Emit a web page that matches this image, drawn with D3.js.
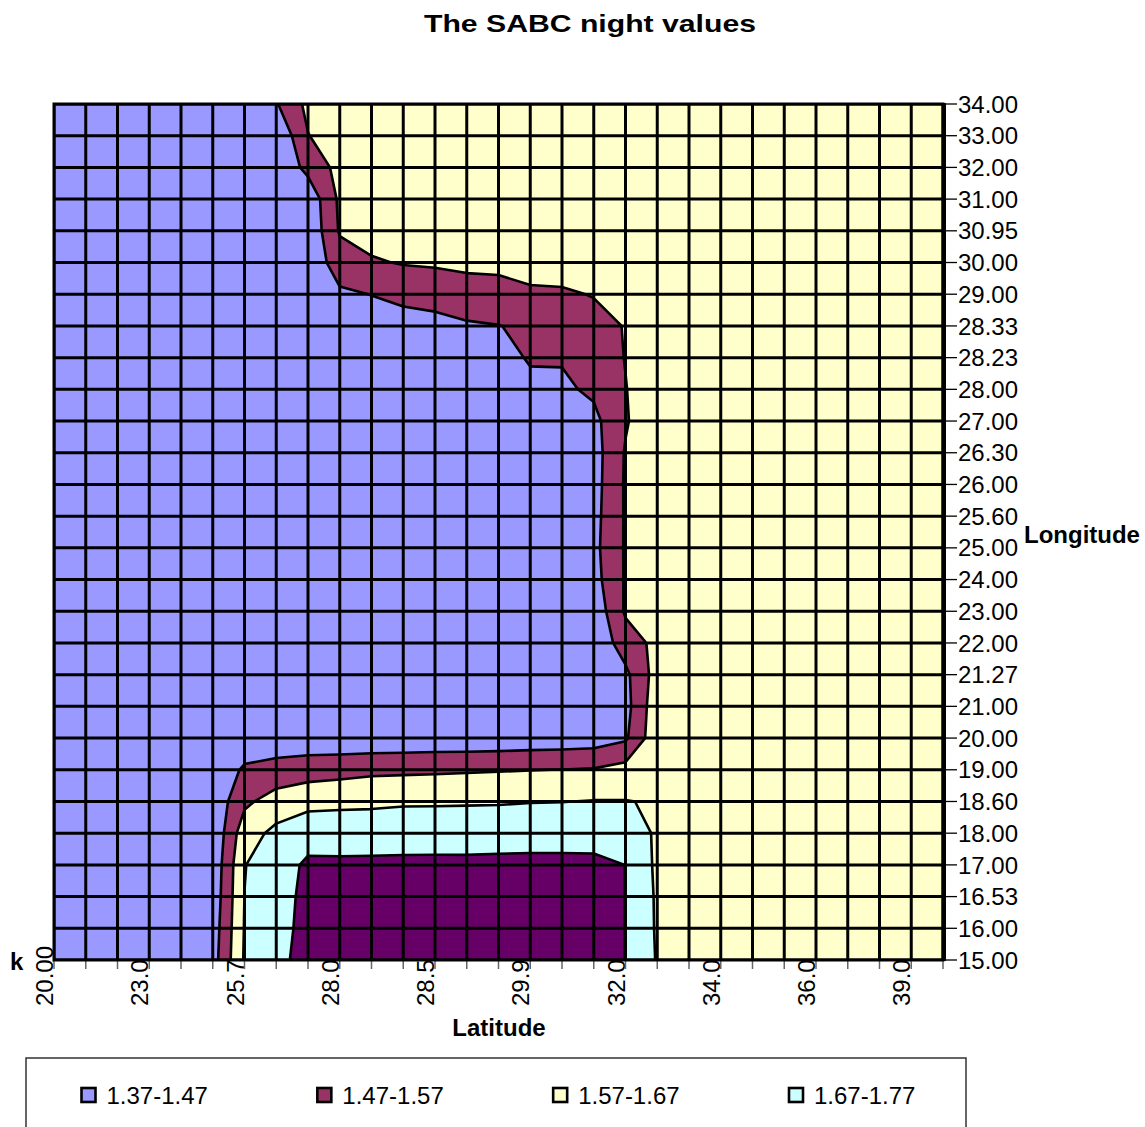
<!DOCTYPE html>
<html>
<head>
<meta charset="utf-8">
<script src="https://cdn.jsdelivr.net/npm/d3@7"></script>
<style>
  body { margin: 0; background: #ffffff; }
  svg { display: block; font-family: "Liberation Sans", Arial, sans-serif; }
</style>
</head>
<body>
<svg id="chart" width="1145" height="1127"></svg>
<script>
// ---------------- data ----------------
const chartTitle = "The SABC night values";
const xAxisTitle = "Latitude";
const yAxisTitle = "Longitude";
const depthLabel = "k";

// latitude categories (29 columns); labels shown on every third column
const latColumnCount = 29;
const latLabelStep = 3;
const latLabels = ["20.00", "23.00", "25.70", "28.00", "28.50", "29.90", "32.00", "34.00", "36.00", "39.00"];

// longitude categories (28 rows, top to bottom)
const lonLabels = ["34.00", "33.00", "32.00", "31.00", "30.95", "30.00", "29.00", "28.33", "28.23", "28.00",
                   "27.00", "26.30", "26.00", "25.60", "25.00", "24.00", "23.00", "22.00", "21.27", "21.00",
                   "20.00", "19.00", "18.60", "18.00", "17.00", "16.53", "16.00", "15.00"];

// value bands
const bandLabels = ["1.37-1.47", "1.47-1.57", "1.57-1.67", "1.67-1.77"];
const bandThresholds = [1.47, 1.57, 1.67, 1.77];
const bandColors = ["#9999FF", "#993366", "#FFFFCC", "#CCFFFF", "#660066"];

// values at the grid nodes: one row per longitude (top = 34.00), one entry per latitude column
const gridValues = [
  [1.420,1.420,1.420,1.420,1.420,1.420,1.420,1.462,1.595,1.620,1.620,1.620,1.620,1.620,1.620,1.620,1.620,1.620,1.620,1.620,1.620,1.620,1.620,1.620,1.620,1.620,1.620,1.620,1.620],
  [1.420,1.420,1.420,1.420,1.420,1.420,1.420,1.377,1.567,1.620,1.620,1.620,1.620,1.620,1.620,1.620,1.620,1.620,1.620,1.620,1.620,1.620,1.620,1.620,1.620,1.620,1.620,1.620,1.620],
  [1.420,1.420,1.420,1.420,1.420,1.420,1.420,1.380,1.500,1.601,1.620,1.620,1.620,1.620,1.620,1.620,1.620,1.620,1.620,1.620,1.620,1.620,1.620,1.620,1.620,1.620,1.620,1.620,1.620],
  [1.420,1.420,1.420,1.420,1.420,1.420,1.420,1.400,1.397,1.589,1.620,1.620,1.620,1.620,1.620,1.620,1.620,1.620,1.620,1.620,1.620,1.620,1.620,1.620,1.620,1.620,1.620,1.620,1.620],
  [1.420,1.420,1.420,1.420,1.420,1.420,1.420,1.420,1.387,1.580,1.600,1.620,1.620,1.620,1.620,1.620,1.620,1.620,1.620,1.620,1.620,1.620,1.620,1.620,1.620,1.620,1.620,1.620,1.620],
  [1.420,1.420,1.420,1.420,1.420,1.420,1.420,1.420,1.398,1.520,1.562,1.575,1.580,1.590,1.596,1.643,1.637,1.620,1.620,1.620,1.620,1.620,1.620,1.620,1.620,1.620,1.620,1.620,1.620],
  [1.420,1.420,1.420,1.420,1.420,1.420,1.420,1.420,1.420,1.454,1.472,1.510,1.520,1.530,1.530,1.540,1.550,1.577,1.620,1.620,1.620,1.620,1.620,1.620,1.620,1.620,1.620,1.620,1.620],
  [1.420,1.420,1.420,1.420,1.420,1.420,1.420,1.420,1.420,1.420,1.422,1.407,1.429,1.458,1.468,1.485,1.520,1.520,1.577,1.620,1.620,1.620,1.620,1.620,1.620,1.620,1.620,1.620,1.620],
  [1.420,1.420,1.420,1.420,1.420,1.420,1.420,1.420,1.420,1.420,1.420,1.420,1.420,1.420,1.396,1.489,1.478,1.520,1.573,1.620,1.620,1.620,1.620,1.620,1.620,1.620,1.620,1.620,1.620],
  [1.420,1.420,1.420,1.420,1.420,1.420,1.420,1.420,1.420,1.420,1.420,1.420,1.420,1.420,1.420,1.420,1.452,1.488,1.567,1.627,1.620,1.620,1.620,1.620,1.620,1.620,1.620,1.620,1.620],
  [1.420,1.420,1.420,1.420,1.420,1.420,1.420,1.420,1.420,1.420,1.420,1.420,1.420,1.420,1.420,1.420,1.420,1.443,1.560,1.651,1.620,1.620,1.620,1.620,1.620,1.620,1.620,1.620,1.620],
  [1.420,1.420,1.420,1.420,1.420,1.420,1.420,1.420,1.420,1.420,1.420,1.420,1.420,1.420,1.420,1.420,1.420,1.428,1.578,1.620,1.620,1.620,1.620,1.620,1.620,1.620,1.620,1.620,1.620],
  [1.420,1.420,1.420,1.420,1.420,1.420,1.420,1.420,1.420,1.420,1.420,1.420,1.420,1.420,1.420,1.420,1.420,1.431,1.581,1.620,1.620,1.620,1.620,1.620,1.620,1.620,1.620,1.620,1.620],
  [1.420,1.420,1.420,1.420,1.420,1.420,1.420,1.420,1.420,1.420,1.420,1.420,1.420,1.420,1.420,1.420,1.420,1.437,1.580,1.620,1.620,1.620,1.620,1.620,1.620,1.620,1.620,1.620,1.620],
  [1.420,1.420,1.420,1.420,1.420,1.420,1.420,1.420,1.420,1.420,1.420,1.420,1.420,1.420,1.420,1.420,1.420,1.443,1.580,1.620,1.620,1.620,1.620,1.620,1.620,1.620,1.620,1.620,1.620],
  [1.420,1.420,1.420,1.420,1.420,1.420,1.420,1.420,1.420,1.420,1.420,1.420,1.420,1.420,1.420,1.420,1.420,1.433,1.580,1.620,1.620,1.620,1.620,1.620,1.620,1.620,1.620,1.620,1.620],
  [1.420,1.420,1.420,1.420,1.420,1.420,1.420,1.420,1.420,1.420,1.420,1.420,1.420,1.420,1.420,1.420,1.420,1.398,1.583,1.620,1.620,1.620,1.620,1.620,1.620,1.620,1.620,1.620,1.620],
  [1.420,1.420,1.420,1.420,1.420,1.420,1.420,1.420,1.420,1.420,1.420,1.420,1.420,1.420,1.420,1.420,1.420,1.392,1.520,1.596,1.620,1.620,1.620,1.620,1.620,1.620,1.620,1.620,1.620],
  [1.420,1.420,1.420,1.420,1.420,1.420,1.420,1.420,1.420,1.420,1.420,1.420,1.420,1.420,1.420,1.420,1.420,1.420,1.447,1.613,1.620,1.620,1.620,1.620,1.620,1.620,1.620,1.620,1.620],
  [1.420,1.420,1.420,1.420,1.420,1.420,1.420,1.420,1.420,1.420,1.420,1.420,1.420,1.420,1.420,1.420,1.420,1.420,1.434,1.636,1.620,1.620,1.620,1.620,1.620,1.620,1.620,1.620,1.620],
  [1.420,1.420,1.420,1.420,1.420,1.420,1.402,1.419,1.402,1.397,1.397,1.399,1.402,1.402,1.404,1.410,1.413,1.419,1.455,1.641,1.620,1.620,1.620,1.620,1.620,1.620,1.620,1.620,1.620],
  [1.420,1.420,1.420,1.420,1.420,1.391,1.485,1.500,1.528,1.538,1.550,1.553,1.556,1.560,1.564,1.568,1.571,1.577,1.606,1.630,1.620,1.620,1.620,1.620,1.620,1.620,1.620,1.620,1.620],
  [1.420,1.420,1.420,1.420,1.420,1.397,1.549,1.617,1.636,1.642,1.647,1.653,1.655,1.657,1.659,1.665,1.668,1.674,1.673,1.663,1.620,1.620,1.620,1.620,1.620,1.620,1.620,1.620,1.620],
  [1.420,1.420,1.420,1.420,1.420,1.384,1.630,1.693,1.743,1.746,1.743,1.759,1.755,1.757,1.759,1.765,1.760,1.699,1.720,1.658,1.620,1.620,1.620,1.620,1.620,1.620,1.620,1.620,1.620],
  [1.420,1.420,1.420,1.420,1.420,1.394,1.666,1.739,1.781,1.779,1.781,1.775,1.777,1.776,1.776,1.773,1.776,1.810,1.769,1.651,1.620,1.620,1.620,1.620,1.620,1.620,1.620,1.620,1.620],
  [1.420,1.420,1.420,1.420,1.420,1.403,1.671,1.707,1.810,1.810,1.810,1.810,1.810,1.810,1.810,1.810,1.810,1.810,1.769,1.657,1.620,1.620,1.620,1.620,1.620,1.620,1.620,1.620,1.620],
  [1.420,1.420,1.420,1.420,1.420,1.416,1.675,1.723,1.810,1.810,1.810,1.810,1.810,1.810,1.810,1.810,1.810,1.810,1.769,1.659,1.620,1.620,1.620,1.620,1.620,1.620,1.620,1.620,1.620],
  [1.420,1.420,1.420,1.420,1.420,1.427,1.680,1.740,1.810,1.810,1.810,1.810,1.810,1.810,1.810,1.810,1.810,1.810,1.769,1.663,1.620,1.620,1.620,1.620,1.620,1.620,1.620,1.620,1.620]
];

// ---------------- drawing ----------------
const svg = d3.select("#chart");
const nCols = latColumnCount;
const nRows = lonLabels.length;

const x = d3.scaleLinear().domain([0, nCols - 1]).range([54, 943]);
const y = d3.scaleLinear().domain([0, nRows - 1]).range([104, 960]);
const [px0, px1] = x.range();
const [py0, py1] = y.range();

// title
svg.append("text")
  .attr("x", 590).attr("y", 32)
  .attr("text-anchor", "middle")
  .attr("font-size", 24).attr("font-weight", "bold")
  .attr("textLength", 332).attr("lengthAdjust", "spacingAndGlyphs")
  .text(chartTitle);

// x tick labels (drawn first: their upper part is hidden behind the plot area)
svg.append("g").selectAll("text")
  .data(latLabels)
  .join("text")
  .attr("transform", (d, k) => `translate(${x(k * latLabelStep) - 1},1006) rotate(-90)`)
  .attr("text-anchor", "start")
  .attr("font-size", 24)
  .attr("fill", "#000")
  .text(d => d);

// x tick marks
svg.append("g").selectAll("line")
  .data(d3.range(nCols))
  .join("line")
  .attr("x1", d => x(d)).attr("x2", d => x(d))
  .attr("y1", py1).attr("y2", py1 + 9)
  .attr("stroke", "#666").attr("stroke-width", 1.5);

// clip for plot
svg.append("defs").append("clipPath").attr("id", "plotClip")
  .append("rect").attr("x", px0).attr("y", py0).attr("width", px1 - px0).attr("height", py1 - py0);

const plot = svg.append("g").attr("clip-path", "url(#plotClip)");

// base band (lowest)
plot.append("rect")
  .attr("x", px0).attr("y", py0).attr("width", px1 - px0).attr("height", py1 - py0)
  .attr("fill", bandColors[0]);

const flatValues = gridValues.flat();
const contours = d3.contours().size([nCols, nRows]).thresholds(bandThresholds)(flatValues);
const proj = d3.geoTransform({
  point: function (u, v) { this.stream.point(x(u - 0.5), y(v - 0.5)); }
});
const path = d3.geoPath(proj);

plot.append("g").selectAll("path")
  .data(contours)
  .join("path")
  .attr("d", path)
  .attr("fill", (d, i) => bandColors[i + 1])
  .attr("stroke", "none");

plot.append("g").selectAll("path")
  .data(contours)
  .join("path")
  .attr("d", path)
  .attr("fill", "none")
  .attr("stroke", "#000")
  .attr("stroke-width", 2.6)
  .attr("stroke-linejoin", "round");

// grid lines
plot.append("g").selectAll("line")
  .data(d3.range(nCols))
  .join("line")
  .attr("x1", d => x(d)).attr("x2", d => x(d))
  .attr("y1", py0).attr("y2", py1)
  .attr("stroke", "#000").attr("stroke-width", 3);

plot.append("g").selectAll("line")
  .data(d3.range(nRows))
  .join("line")
  .attr("x1", px0).attr("x2", px1)
  .attr("y1", d => y(d)).attr("y2", d => y(d))
  .attr("stroke", "#000").attr("stroke-width", 3);

// plot border
svg.append("rect")
  .attr("x", px0).attr("y", py0).attr("width", px1 - px0).attr("height", py1 - py0)
  .attr("fill", "none").attr("stroke", "#000").attr("stroke-width", 3);

// right (longitude) axis
svg.append("line")
  .attr("x1", px1 + 1).attr("x2", px1 + 1).attr("y1", py0 - 1).attr("y2", py1 + 1)
  .attr("stroke", "#000").attr("stroke-width", 4);

svg.append("g").selectAll("line")
  .data(d3.range(nRows))
  .join("line")
  .attr("x1", px1 + 2).attr("x2", px1 + 14)
  .attr("y1", d => y(d)).attr("y2", d => y(d))
  .attr("stroke", "#000").attr("stroke-width", 1.3);

svg.append("g").selectAll("text")
  .data(lonLabels)
  .join("text")
  .attr("x", 958)
  .attr("y", (d, j) => y(j))
  .attr("dy", "0.36em")
  .attr("font-size", 24)
  .attr("fill", "#000")
  .text(d => d);

// axis titles
svg.append("text").attr("x", 1024).attr("y", 543)
  .attr("font-size", 24).attr("font-weight", "bold").text(yAxisTitle);
svg.append("text").attr("x", 499).attr("y", 1036).attr("text-anchor", "middle")
  .attr("font-size", 24).attr("font-weight", "bold").text(xAxisTitle);
svg.append("text").attr("x", 10).attr("y", 970)
  .attr("font-size", 24).attr("font-weight", "bold").text(depthLabel);

// legend
const legend = svg.append("g");
legend.append("rect")
  .attr("x", 26).attr("y", 1058).attr("width", 940).attr("height", 120)
  .attr("fill", "#fff").attr("stroke", "#333").attr("stroke-width", 1.5);

const legendX = d3.scalePoint().domain(d3.range(bandLabels.length)).range([81.5, 789]);
const items = legend.selectAll("g.item")
  .data(bandLabels)
  .join("g")
  .attr("class", "item")
  .attr("transform", (d, i) => `translate(${legendX(i)},1088)`);

items.append("rect")
  .attr("x", 0).attr("y", 0).attr("width", 14).attr("height", 14)
  .attr("fill", (d, i) => bandColors[i])
  .attr("stroke", "#000").attr("stroke-width", 2.6);

items.append("text")
  .attr("x", 25).attr("y", 15.5)
  .attr("font-size", 24)
  .attr("fill", "#000")
  .text(d => d);
</script>
</body>
</html>
